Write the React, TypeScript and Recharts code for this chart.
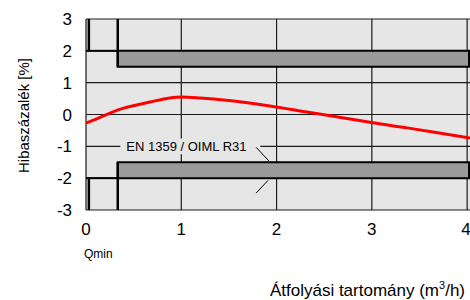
import {
  ComposedChart,
  Line,
  XAxis,
  YAxis,
  CartesianGrid,
  ReferenceArea,
  ReferenceLine,
  Label,
} from "recharts";

// flow rate (m3/h) and measured error (%)
const flowRate = [0, 0.1, 0.33, 0.67, 0.88, 1.0, 1.2, 1.5, 1.93, 2.35, 2.69, 3.01, 3.37, 3.69, 4.03];
const errorPct = [-0.27, -0.15, 0.14, 0.39, 0.52, 0.55, 0.52, 0.44, 0.27, 0.06, -0.1, -0.26, -0.42, -0.57, -0.74];

const xTicks = [0, 1, 2, 3, 4];
const yTicks = [-3, -2, -1, 0, 1, 2, 3];
const gridX = [0, 1, 2, 3, 4, 5, 6, 7, 8, 9, 10, 11, 12].map((k) => k / 3);
const gridY = [-3, -2, -1, 0, 1, 2, 3];

// limits
const qmin = 1 / 3;
const qStart = 0.03;
const qEnd = 4.02;
const bandInner = 1.5;
const bandOuter = 2;

const data = flowRate.map((q, i) => ({ q, err: errorPct[i] }));

const FONT = "'Liberation Sans', Arial, sans-serif";

const XTick = ({ x, y, payload }: any) => (
  <g>
    <text x={x} y={y} dy={17} textAnchor="middle" fontSize={17} fontFamily={FONT} fill="#000">
      {payload.value}
    </text>
    {payload.value === 0 && (
      <text x={x - 2} y={y} dy={40} textAnchor="start" fontSize={12} fontFamily={FONT} fill="#000">
        Qmin
      </text>
    )}
  </g>
);

const YTick = ({ x, y, payload }: any) => (
  <text x={x} y={y} dy={6} textAnchor="end" fontSize={17} fontFamily={FONT} fill="#000">
    {payload.value}
  </text>
);

const YTitle = ({ viewBox }: any) => {
  const cx = viewBox.x + 23;
  const cy = viewBox.y + viewBox.height / 2 + 1;
  return (
    <text
      x={cx}
      y={cy}
      transform={`rotate(-90, ${cx}, ${cy})`}
      textAnchor="middle"
      dominantBaseline="central"
      fontSize={15}
      fontFamily={FONT}
      fill="#000"
    >
      Hibaszázalék [%]
    </text>
  );
};

const XTitle = ({ viewBox }: any) => (
  <text
    x={viewBox.x + viewBox.width - 5}
    y={viewBox.y + viewBox.height - 4}
    textAnchor="end"
    fontSize={17}
    fontFamily={FONT}
    fill="#000"
  >
    <tspan>Átfolyási tartomány (m</tspan>
    <tspan dy={-7} fontSize={11}>3</tspan>
    <tspan dy={7}>/h)</tspan>
  </text>
);

const App = () => {
  return (
    <div style={{ position: "absolute", left: 0, top: 0 }}>
      <ComposedChart
        width={470}
        height={300}
        data={data}
        margin={{ top: 19, right: 0, left: 0, bottom: 0 }}
      >
        <CartesianGrid
          fill="#e6e6e6"
          stroke="#1a1a1a"
          strokeWidth={1.2}
          horizontalValues={gridY}
          verticalValues={gridX}
        />
        <XAxis
          dataKey="q"
          type="number"
          domain={[0, 4.03]}
          ticks={xTicks}
          allowDataOverflow
          height={90}
          axisLine={false}
          tickLine={false}
          tickSize={0}
          tickMargin={8}
          tick={<XTick />}
        >
          <Label content={<XTitle />} />
        </XAxis>
        <YAxis
          type="number"
          domain={[-3, 3]}
          ticks={yTicks}
          width={86}
          axisLine={false}
          tickLine={false}
          tickSize={0}
          tickMargin={14}
          tick={<YTick />}
        >
          <Label content={<YTitle />} />
        </YAxis>

        {/* tolerance bands */}
        <ReferenceArea x1={qmin} x2={qEnd} y1={bandInner} y2={bandOuter} fill="#9a9a9a" fillOpacity={1} stroke="#000" strokeWidth={2} />
        <ReferenceArea x1={qmin} x2={qEnd} y1={-bandOuter} y2={-bandInner} fill="#9a9a9a" fillOpacity={1} stroke="#000" strokeWidth={2} />

        {/* Qmin steps */}
        <ReferenceLine segment={[{ x: qStart, y: 3 }, { x: qStart, y: bandOuter }]} stroke="#000" strokeWidth={2.5} />
        <ReferenceLine segment={[{ x: 0, y: bandOuter }, { x: qmin, y: bandOuter }]} stroke="#000" strokeWidth={2} />
        <ReferenceLine segment={[{ x: qmin, y: 3 }, { x: qmin, y: bandInner }]} stroke="#000" strokeWidth={2.5} />
        <ReferenceLine segment={[{ x: qStart, y: -3 }, { x: qStart, y: -bandOuter }]} stroke="#000" strokeWidth={2.5} />
        <ReferenceLine segment={[{ x: 0, y: -bandOuter }, { x: qmin, y: -bandOuter }]} stroke="#000" strokeWidth={2} />
        <ReferenceLine segment={[{ x: qmin, y: -3 }, { x: qmin, y: -bandInner }]} stroke="#000" strokeWidth={2.5} />

        {/* annotation */}
        <ReferenceArea x1={0.36} x2={1.83} y1={-1.25} y2={-0.75} fill="#e6e6e6" fillOpacity={1} stroke="none">
          <Label value="EN 1359 / OIML R31" position="insideLeft" offset={6} fontSize={13} fontFamily={FONT} fill="#000" />
        </ReferenceArea>
        <ReferenceLine segment={[{ x: 1.785, y: -1.03 }, { x: 1.92, y: -1.46 }]} stroke="#000" strokeWidth={1} />
        <ReferenceLine segment={[{ x: 1.91, y: -2.07 }, { x: 1.785, y: -2.47 }]} stroke="#000" strokeWidth={1} />

        <Line
          dataKey="err"
          type="monotone"
          stroke="#ff0000"
          strokeWidth={3}
          dot={false}
          isAnimationActive={false}
        />
      </ComposedChart>
    </div>
  );
};

export default App;
